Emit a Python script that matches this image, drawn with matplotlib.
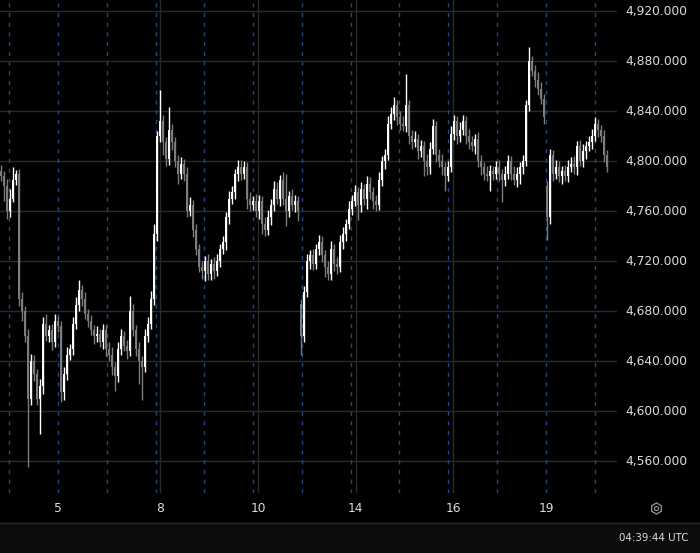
import matplotlib.pyplot as plt
import numpy as np
from matplotlib.lines import Line2D

# closing prices, one per candle (left to right)
closes = [
    4788, 4780, 4760, 4770, 4785, 4790, 4690, 4680, 4660, 4610,
    4640, 4630, 4610, 4620, 4670, 4660, 4665, 4655, 4672, 4668,
    4615, 4630, 4645, 4650, 4670, 4685, 4697, 4690, 4678, 4672,
    4665, 4660, 4662, 4655, 4665, 4650, 4645, 4635, 4628, 4650,
    4660, 4652, 4648, 4680, 4665, 4650, 4640, 4635, 4660, 4670,
    4690, 4742, 4820, 4832, 4815, 4802, 4825, 4815, 4800, 4790,
    4798, 4790, 4760, 4765, 4745, 4730, 4715, 4712, 4720, 4710,
    4718, 4712, 4720, 4730, 4735, 4755, 4770, 4775, 4790, 4795,
    4790, 4795, 4770, 4765, 4768, 4760, 4768, 4750, 4745, 4755,
    4765, 4778, 4770, 4785, 4770, 4760, 4772, 4765, 4768, 4760,
    4660, 4695, 4720, 4725, 4718, 4730, 4735, 4725, 4715, 4710,
    4730, 4718, 4715, 4735, 4742, 4750, 4762, 4768, 4775, 4765,
    4778, 4770, 4782, 4775, 4768, 4765, 4785, 4800, 4805, 4830,
    4838, 4845, 4835, 4830, 4828, 4845, 4820, 4815, 4818, 4808,
    4812, 4800, 4795, 4810, 4828, 4805, 4800, 4795, 4788, 4795,
    4822, 4832, 4820, 4825, 4832, 4820, 4815, 4812, 4818, 4800,
    4795, 4790, 4788, 4792, 4790, 4795, 4790, 4785, 4790, 4800,
    4790, 4785, 4790, 4795, 4800, 4845, 4880, 4872, 4865, 4858,
    4850, 4835, 4755, 4805, 4790, 4795, 4788, 4792, 4788, 4795,
    4798, 4795, 4812, 4800, 4808, 4812, 4815, 4820, 4830, 4825,
    4820, 4805, 4795,
]
first_open = 4792
gap_opens = {100: 4686, 182: 4780}

# wick length above / below the body
wick_up = [
    5, 4, 6, 8, 10, 3, 4, 5, 4, 6,
    6, 5, 4, 6, 5, 8, 4, 5, 6, 4,
    4, 5, 6, 4, 5, 6, 8, 4, 5, 4,
    5, 4, 6, 4, 5, 4, 5, 6, 4, 5,
    6, 4, 5, 12, 6, 4, 5, 4, 6, 5,
    6, 8, 4, 25, 5, 4, 18, 5, 4, 5,
    5, 4, 5, 6, 4, 5, 4, 5, 4, 6,
    4, 5, 6, 4, 5, 4, 6, 5, 4, 6,
    6, 5, 4, 5, 4, 6, 5, 4, 5, 6,
    5, 6, 5, 4, 6, 20, 4, 6, 5, 4,
    4, 5, 6, 4, 5, 4, 6, 5, 4, 5,
    6, 4, 5, 6, 5, 4, 6, 5, 6, 4,
    5, 4, 6, 5, 4, 5, 6, 4, 5, 6,
    5, 6, 4, 5, 6, 25, 4, 5, 6, 4,
    5, 4, 6, 5, 6, 4, 5, 6, 4, 5,
    6, 5, 4, 6, 5, 4, 6, 5, 4, 5,
    5, 4, 6, 5, 4, 5, 6, 4, 6, 5,
    4, 6, 5, 4, 5, 4, 11, 4, 5, 6,
    5, 4, 4, 5, 4, 6, 5, 4, 5, 6,
    5, 6, 4, 5, 6, 4, 5, 6, 5, 4,
    4, 5, 4,
]
wick_dn = [
    4, 12, 6, 5, 3, 4, 6, 8, 5, 55,
    5, 6, 5, 28, 6, 4, 5, 6, 4, 5,
    8, 6, 5, 4, 5, 4, 5, 6, 4, 5,
    4, 6, 5, 4, 5, 6, 5, 6, 12, 5,
    5, 4, 6, 4, 5, 6, 18, 26, 4, 5,
    4, 5, 6, 5, 10, 6, 5, 6, 5, 8,
    4, 6, 5, 4, 6, 5, 4, 6, 8, 5,
    5, 6, 4, 5, 4, 6, 5, 4, 5, 6,
    5, 4, 8, 5, 4, 5, 6, 8, 5, 4,
    6, 5, 4, 6, 5, 12, 5, 4, 6, 8,
    15, 5, 4, 6, 5, 4, 5, 6, 8, 5,
    5, 6, 5, 4, 5, 6, 4, 5, 4, 12,
    6, 5, 8, 5, 6, 5, 4, 5, 6, 4,
    4, 5, 6, 5, 4, 5, 6, 5, 4, 6,
    5, 12, 6, 5, 4, 6, 5, 6, 12, 4,
    4, 5, 6, 5, 4, 6, 5, 4, 6, 5,
    6, 5, 4, 12, 5, 4, 6, 18, 5, 4,
    5, 4, 6, 8, 5, 4, 5, 4, 6, 5,
    4, 5, 18, 5, 6, 4, 5, 6, 4, 5,
    4, 5, 6, 4, 5, 6, 4, 5, 4, 6,
    5, 6, 4,
]

x_labels = ['5', '8', '10', '14', '16', '19']
x_label_pos = [19, 53, 85.7, 118.3, 150.7, 181.7]
solid_lines = [53, 85.7, 118.3, 150.7]
day_lines = [2.77, 19, 35.3, 51.5, 67.7, 84, 100.3, 116.5, 132.8, 149, 165.3, 181.7, 198]
y_ticks = [4560, 4600, 4640, 4680, 4720, 4760, 4800, 4840, 4880, 4920]

n = len(closes)
opens = [first_open] + closes[:-1]
for k, v in gap_opens.items():
    opens[k] = v
opens = np.array(opens, dtype=float)
closes_a = np.array(closes, dtype=float)
top = np.maximum(opens, closes_a)
bot = np.minimum(opens, closes_a)
m = min(n, len(wick_up), len(wick_dn))
highs = top[:m] + np.array(wick_up[:m])
lows = bot[:m] - np.array(wick_dn[:m])
idx = np.arange(n)

bg = '#000000'
grid_c = '#2a2a2a'
text_c = '#dcdcdc'

fig = plt.figure(figsize=(7, 5.53), dpi=100, facecolor=bg)
ax = fig.add_axes([0, 1 - 493 / 553, 617 / 700, 493 / 553], facecolor=bg)

for y in y_ticks:
    ax.axhline(y, color=grid_c, lw=1, zorder=0)
for xp in solid_lines:
    ax.axvline(xp, color=grid_c, lw=1, zorder=0)
for xp in day_lines:
    ax.axvline(xp, color='#21468c', lw=1, ls=(0, (3, 4)), zorder=1, snap=True)

up = closes_a >= opens
cols = np.where(up, '#ffffff', '#7c7c7c')
ax.vlines(idx[:m], lows, highs, colors=cols[:m], lw=1, zorder=2)
heights = np.maximum(top - bot, 0.8)
ax.bar(idx, heights, bottom=bot, width=0.7, color=cols, edgecolor='none', zorder=3)

ax.set_xlim(-0.333, 205.33)
ax.set_ylim(4534.4, 4928.8)
ax.set_xticks([])
ax.set_yticks([])
for s in ax.spines.values():
    s.set_visible(False)

# right price scale
for y in y_ticks:
    yf = ax.transData.transform((0, y))[1] / fig.bbox.height
    fig.text(625 / 700, yf, f'{y:,.3f}', color=text_c, fontsize=8.8,
             ha='left', va='center')

# date labels
for lab, xp in zip(x_labels, x_label_pos):
    xf = ax.transData.transform((xp, 0))[0] / fig.bbox.width
    fig.text(xf, 1 - 508 / 553, lab, color=text_c, fontsize=8.8,
             ha='center', va='center')

# settings icon
fig.add_artist(Line2D([656 / 700], [1 - 508 / 553], marker='h', ms=8,
                      mfc='none', mec='#9598a1', mew=0.9, transform=fig.transFigure))
fig.add_artist(Line2D([656 / 700], [1 - 508 / 553], marker='o', ms=3,
                      mfc='none', mec='#9598a1', mew=0.8, transform=fig.transFigure))

# bottom status strip
fig.add_artist(plt.Rectangle((0, 0), 1, 30 / 553, transform=fig.transFigure,
                             facecolor='#0c0c0c', edgecolor='none', zorder=0))
fig.add_artist(Line2D([0, 1], [30 / 553, 30 / 553], color='#2a2a2a', lw=1,
                      transform=fig.transFigure))
fig.text(688 / 700, 1 - 538 / 553, '04:39:44 UTC', color=text_c, fontsize=7.4,
         ha='right', va='center')

fig.savefig('out.png', dpi=100, facecolor=bg)
